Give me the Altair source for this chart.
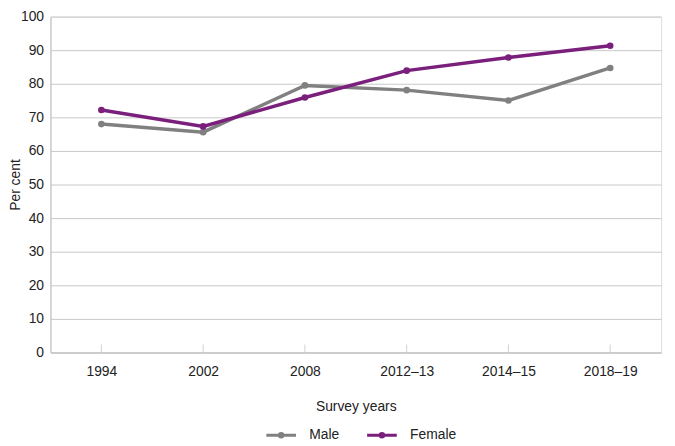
import altair as alt
import pandas as pd

years = ["1994", "2002", "2008", "2012–13", "2014–15", "2018–19"]
male = [68.0, 65.6, 79.5, 78.1, 75.0, 84.7]
female = [72.2, 67.3, 75.9, 83.9, 87.8, 91.3]
series = ["Male", "Female"]
colors = ["#808080", "#7b1f7c"]
y_ticks = [0, 10, 20, 30, 40, 50, 60, 70, 80, 90, 100]

rows = []
for s, vals in zip(series, [male, female]):
    for yr, v in zip(years, vals):
        rows.append({"year": yr, "series": s, "value": v})
df = pd.DataFrame(rows)
tick_df = pd.DataFrame({"year": years})

FONT = "Liberation Sans"
FS = 14
TXT = "#222222"

x_enc = alt.X(
    "year:O",
    sort=years,
    scale=alt.Scale(type="point", padding=0.5),
    axis=alt.Axis(
        title="Survey years",
        labelAngle=0,
        ticks=False,
        labelPadding=12,
        labelFontSize=FS,
        labelColor=TXT,
        titleFontSize=FS,
        titleFontWeight="normal",
        titleColor=TXT,
        titleY=55,
        titleBaseline="middle",
        domainColor="#bfbfbf",
        grid=False,
    ),
)

y_axis = alt.Axis(
    title="Per cent",
    values=y_ticks,
    labelOverlap=False,
    ticks=False,
    labelPadding=7,
    labelFontSize=FS,
    labelColor=TXT,
    titleFontSize=FS,
    titleFontWeight="normal",
    titleColor=TXT,
    titleX=-35,
    titleY=170,
    titleAngle=270,
    titleBaseline="middle",
    domainColor="#bfbfbf",
    gridColor="#c8c8c8",
    gridWidth=1,
)

y_enc = alt.Y("value:Q", scale=alt.Scale(domain=[0, 100], nice=False), axis=y_axis)

lines = alt.Chart(df).mark_line(
    strokeWidth=3.5,
    point=alt.OverlayMarkDef(size=45, filled=True, opacity=1),
).encode(
    x=x_enc,
    y=y_enc,
    color=alt.Color(
        "series:N",
        sort=series,
        scale=alt.Scale(domain=series, range=colors),
        legend=alt.Legend(
            title=None,
            orient="none",
            direction="horizontal",
            legendX=217,
            legendY=407,
            padding=0,
            symbolType="M-1,0H1M-0.12,0a0.12,0.12 0 1,0 0.24,0a0.12,0.12 0 1,0 -0.24,0",
            symbolSize=900,
            symbolStrokeWidth=3,
            labelOffset=12,
            columnPadding=21,
            labelFontSize=FS,
            labelColor=TXT,
        ),
    ),
    order=alt.Order("series_order:Q"),
).transform_calculate(
    series_order="datum.series == 'Male' ? 0 : 1"
)

ticks = alt.Chart(tick_df).mark_tick(
    orient="vertical", size=8, thickness=1, color="#bfbfbf", yOffset=-4
).encode(
    x=alt.X("year:O", sort=years),
    y=alt.YDatum(0, axis=y_axis),
)

chart = alt.layer(lines, ticks).properties(
    width=618,
    height=340,
    autosize=alt.AutoSizeParams(type="none"),
    padding={"left": 43, "top": 6, "right": 6, "bottom": 95},
).configure_view(stroke=None).configure(font=FONT)

chart.save("out.html", embed_options={"renderer": "svg", "actions": False})
